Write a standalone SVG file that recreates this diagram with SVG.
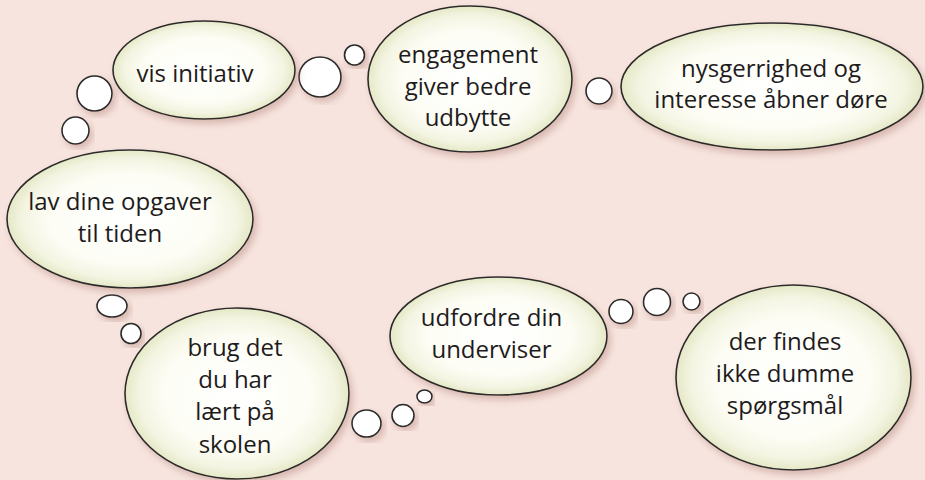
<svg xmlns="http://www.w3.org/2000/svg" width="925" height="480" viewBox="0 0 925 480">
<defs>
<radialGradient id="cream" cx="50%" cy="50%" r="50%">
<stop offset="0" stop-color="#ffffff"/>
<stop offset="0.65" stop-color="#fdfdf5"/>
<stop offset="0.88" stop-color="#f3f4e1"/>
<stop offset="1" stop-color="#e5e8c6"/>
</radialGradient>
<filter id="sh" x="-20%" y="-20%" width="140%" height="140%">
<feGaussianBlur in="SourceAlpha" stdDeviation="3.5"/>
<feOffset dx="3" dy="4" result="b"/>
<feFlood flood-color="#b58a80" flood-opacity="0.5"/>
<feComposite in2="b" operator="in"/>
<feMerge><feMergeNode/><feMergeNode in="SourceGraphic"/></feMerge>
</filter>
</defs>
<style>
.cloud{fill:url(#cream);stroke:#2b2b2b;stroke-width:1.6;filter:url(#sh)}
.dot{fill:#ffffff;stroke:#2b2b2b;stroke-width:1.6;filter:url(#sh)}
text{font-family:"Open Sans","Noto Sans","Liberation Sans",sans-serif;font-size:24px;fill:#1e1b1c;text-anchor:middle}
</style>
<rect width="925" height="480" fill="#f7e4de"/>
<g id="connectors">
<circle class="dot" cx="94.5" cy="93.5" r="17.5"/>
<circle class="dot" cx="75.5" cy="130.5" r="13.5"/>
<ellipse class="dot" cx="320" cy="77" rx="21" ry="20"/>
<circle class="dot" cx="354.5" cy="55" r="10"/>
<circle class="dot" cx="599" cy="91" r="13"/>
<ellipse class="dot" cx="112" cy="306" rx="15" ry="11"/>
<circle class="dot" cx="131" cy="333.5" r="10"/>
<ellipse class="dot" cx="366.5" cy="423.5" rx="14.5" ry="13.5"/>
<circle class="dot" cx="403" cy="415.5" r="11"/>
<ellipse class="dot" cx="424.5" cy="396.5" rx="7.5" ry="6.5"/>
<circle class="dot" cx="621" cy="311.5" r="12"/>
<circle class="dot" cx="657" cy="302" r="13.5"/>
<circle class="dot" cx="691.5" cy="301.5" r="8.5"/>
</g>
<g id="vis-initiativ">
<ellipse class="cloud" cx="204" cy="70" rx="91" ry="49"/>
<text x="195" y="82">vis initiativ</text>
</g>
<g id="engagement">
<ellipse class="cloud" cx="470" cy="79" rx="102" ry="73"/>
<text x="468" y="63">engagement</text>
<text x="468" y="95">giver bedre</text>
<text x="468" y="126">udbytte</text>
</g>
<g id="nysgerrighed">
<ellipse class="cloud" cx="772" cy="86.5" rx="151" ry="63.5"/>
<text x="771" y="77">nysgerrighed og</text>
<text x="771" y="108">interesse åbner døre</text>
</g>
<g id="lav-dine-opgaver">
<ellipse class="cloud" cx="130" cy="219" rx="123" ry="69"/>
<text x="120" y="210">lav dine opgaver</text>
<text x="120" y="242">til tiden</text>
</g>
<g id="brug-det">
<ellipse class="cloud" cx="237" cy="393.5" rx="112" ry="85.5"/>
<text x="235" y="356">brug det</text>
<text x="235" y="388">du har</text>
<text x="235" y="420">lært på</text>
<text x="235" y="453">skolen</text>
</g>
<g id="udfordre">
<ellipse class="cloud" cx="498.5" cy="336" rx="108.5" ry="59"/>
<text x="491.5" y="326">udfordre din</text>
<text x="491.5" y="358">underviser</text>
</g>
<g id="der-findes">
<ellipse class="cloud" cx="793.5" cy="377.5" rx="117.5" ry="92.5"/>
<text x="785" y="350">der findes</text>
<text x="785" y="382">ikke dumme</text>
<text x="785" y="414">spørgsmål</text>
</g>
</svg>
